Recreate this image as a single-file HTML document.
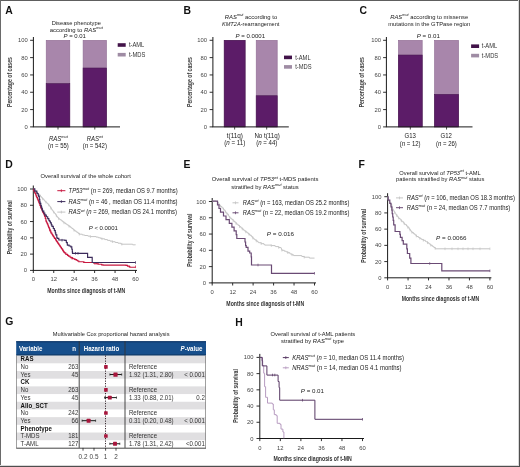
<!DOCTYPE html>
<html><head><meta charset="utf-8"><style>
html,body{margin:0;padding:0;background:#fff;}
svg{display:block;font-family:"Liberation Sans", sans-serif;will-change:transform;}
</style></head><body>
<svg width="520" height="467" viewBox="0 0 520 467" font-family='"Liberation Sans", sans-serif'>
<rect x="0" y="0" width="520" height="467" fill="#fff"/>
<text x="5.2" y="13.6" font-size="10.4" font-weight="bold" fill="#111">A</text>
<rect x="46.20" y="40.30" width="23.60" height="86.60" fill="#a886ab" stroke="#8f6c93" stroke-width="0.6"/>
<rect x="46.20" y="83.60" width="23.60" height="43.30" fill="#5c1c68" stroke="#4a1a52" stroke-width="0.6"/>
<rect x="83.10" y="40.30" width="23.40" height="86.60" fill="#a886ab" stroke="#8f6c93" stroke-width="0.6"/>
<rect x="83.10" y="68.01" width="23.40" height="58.89" fill="#5c1c68" stroke="#4a1a52" stroke-width="0.6"/>
<line x1="33.40" y1="37.00" x2="33.40" y2="126.90" stroke="#1a1a1a" stroke-width="1.0" />
<line x1="32.90" y1="126.90" x2="120.00" y2="126.90" stroke="#1a1a1a" stroke-width="1.0" />
<line x1="30.10" y1="126.90" x2="33.40" y2="126.90" stroke="#1a1a1a" stroke-width="0.9" />
<text x="27.80" y="128.90" font-size="5.85" text-anchor="end" fill="#444" font-weight="normal" ><tspan>0</tspan></text>
<line x1="30.10" y1="109.58" x2="33.40" y2="109.58" stroke="#1a1a1a" stroke-width="0.9" />
<text x="27.80" y="111.58" font-size="5.85" text-anchor="end" fill="#444" font-weight="normal" ><tspan>20</tspan></text>
<line x1="30.10" y1="92.26" x2="33.40" y2="92.26" stroke="#1a1a1a" stroke-width="0.9" />
<text x="27.80" y="94.26" font-size="5.85" text-anchor="end" fill="#444" font-weight="normal" ><tspan>40</tspan></text>
<line x1="30.10" y1="74.94" x2="33.40" y2="74.94" stroke="#1a1a1a" stroke-width="0.9" />
<text x="27.80" y="76.94" font-size="5.85" text-anchor="end" fill="#444" font-weight="normal" ><tspan>60</tspan></text>
<line x1="30.10" y1="57.62" x2="33.40" y2="57.62" stroke="#1a1a1a" stroke-width="0.9" />
<text x="27.80" y="59.62" font-size="5.85" text-anchor="end" fill="#444" font-weight="normal" ><tspan>80</tspan></text>
<line x1="30.10" y1="40.30" x2="33.40" y2="40.30" stroke="#1a1a1a" stroke-width="0.9" />
<text x="27.80" y="42.30" font-size="5.85" text-anchor="end" fill="#444" font-weight="normal" ><tspan>100</tspan></text>
<line x1="58.00" y1="126.90" x2="58.00" y2="129.50" stroke="#1a1a1a" stroke-width="0.8" />
<line x1="94.80" y1="126.90" x2="94.80" y2="129.50" stroke="#1a1a1a" stroke-width="0.8" />
<text x="76.25" y="25.00" font-size="6.2" text-anchor="middle" fill="#222" font-weight="normal"  textLength="49.20" lengthAdjust="spacingAndGlyphs"><tspan>Disease phenotype</tspan></text>
<text x="76.25" y="31.90" font-size="6.2" text-anchor="middle" fill="#222" font-weight="normal"  textLength="53.00" lengthAdjust="spacingAndGlyphs"><tspan>according to </tspan><tspan font-style="italic">RAS</tspan><tspan font-size="4.09" font-style="italic" dy="-2.60">mut</tspan></text>
<text x="74.70" y="38.40" font-size="6.2" text-anchor="middle" fill="#222" font-weight="normal"  textLength="22.40" lengthAdjust="spacingAndGlyphs"><tspan font-style="italic">P</tspan><tspan> = 0.01</tspan></text>
<rect x="117.70" y="43.20" width="8.00" height="3.60" fill="#421349" />
<text x="128.90" y="47.20" font-size="6.4" text-anchor="start" fill="#333" font-weight="normal"  textLength="15.40" lengthAdjust="spacingAndGlyphs"><tspan>t-AML</tspan></text>
<rect x="117.70" y="52.90" width="8.00" height="3.60" fill="#9f8ca4" />
<text x="128.90" y="56.90" font-size="6.4" text-anchor="start" fill="#333" font-weight="normal"  textLength="16.40" lengthAdjust="spacingAndGlyphs"><tspan>t-MDS</tspan></text>
<text x="58.40" y="140.90" font-size="6.6" text-anchor="middle" fill="#222" font-weight="normal"  textLength="18.94" lengthAdjust="spacingAndGlyphs"><tspan font-style="italic">RAS</tspan><tspan font-size="4.36" font-style="italic" dy="-2.77">mut</tspan></text>
<text x="58.40" y="148.10" font-size="6.6" text-anchor="middle" fill="#222" font-weight="normal"  textLength="20.85" lengthAdjust="spacingAndGlyphs"><tspan>(</tspan><tspan font-style="italic">n</tspan><tspan> = 55)</tspan></text>
<text x="94.80" y="140.90" font-size="6.6" text-anchor="middle" fill="#222" font-weight="normal"  textLength="16.30" lengthAdjust="spacingAndGlyphs"><tspan font-style="italic">RAS</tspan><tspan font-size="4.36" font-style="italic" dy="-2.77">wt</tspan></text>
<text x="94.80" y="148.10" font-size="6.6" text-anchor="middle" fill="#222" font-weight="normal"  textLength="24.18" lengthAdjust="spacingAndGlyphs"><tspan>(</tspan><tspan font-style="italic">n</tspan><tspan> = 542)</tspan></text>
<text transform="translate(12.10,82.05) rotate(-90)" x="0" y="0" font-size="8.0" font-weight="bold" fill="#3a3a3a" text-anchor="middle" textLength="50.00" lengthAdjust="spacingAndGlyphs">Percentage of cases</text>
<text x="183.6" y="13.6" font-size="10.4" font-weight="bold" fill="#111">B</text>
<rect x="224.20" y="40.30" width="20.90" height="86.60" fill="#a886ab" stroke="#8f6c93" stroke-width="0.6"/>
<rect x="224.20" y="40.30" width="20.90" height="86.60" fill="#5c1c68" stroke="#4a1a52" stroke-width="0.6"/>
<rect x="256.20" y="40.30" width="21.00" height="86.60" fill="#a886ab" stroke="#8f6c93" stroke-width="0.6"/>
<rect x="256.20" y="95.72" width="21.00" height="31.18" fill="#5c1c68" stroke="#4a1a52" stroke-width="0.6"/>
<line x1="212.90" y1="37.00" x2="212.90" y2="126.90" stroke="#1a1a1a" stroke-width="1.0" />
<line x1="212.40" y1="126.90" x2="288.80" y2="126.90" stroke="#1a1a1a" stroke-width="1.0" />
<line x1="209.60" y1="126.90" x2="212.90" y2="126.90" stroke="#1a1a1a" stroke-width="0.9" />
<text x="207.10" y="128.90" font-size="5.85" text-anchor="end" fill="#444" font-weight="normal" ><tspan>0</tspan></text>
<line x1="209.60" y1="109.58" x2="212.90" y2="109.58" stroke="#1a1a1a" stroke-width="0.9" />
<text x="207.10" y="111.58" font-size="5.85" text-anchor="end" fill="#444" font-weight="normal" ><tspan>20</tspan></text>
<line x1="209.60" y1="92.26" x2="212.90" y2="92.26" stroke="#1a1a1a" stroke-width="0.9" />
<text x="207.10" y="94.26" font-size="5.85" text-anchor="end" fill="#444" font-weight="normal" ><tspan>40</tspan></text>
<line x1="209.60" y1="74.94" x2="212.90" y2="74.94" stroke="#1a1a1a" stroke-width="0.9" />
<text x="207.10" y="76.94" font-size="5.85" text-anchor="end" fill="#444" font-weight="normal" ><tspan>60</tspan></text>
<line x1="209.60" y1="57.62" x2="212.90" y2="57.62" stroke="#1a1a1a" stroke-width="0.9" />
<text x="207.10" y="59.62" font-size="5.85" text-anchor="end" fill="#444" font-weight="normal" ><tspan>80</tspan></text>
<line x1="209.60" y1="40.30" x2="212.90" y2="40.30" stroke="#1a1a1a" stroke-width="0.9" />
<text x="207.10" y="42.30" font-size="5.85" text-anchor="end" fill="#444" font-weight="normal" ><tspan>100</tspan></text>
<line x1="234.65" y1="126.90" x2="234.65" y2="129.50" stroke="#1a1a1a" stroke-width="0.8" />
<line x1="266.70" y1="126.90" x2="266.70" y2="129.50" stroke="#1a1a1a" stroke-width="0.8" />
<text x="251.00" y="18.70" font-size="6.2" text-anchor="middle" fill="#222" font-weight="normal"  textLength="52.40" lengthAdjust="spacingAndGlyphs"><tspan font-style="italic">RAS</tspan><tspan font-size="4.09" font-style="italic" dy="-2.60">mut</tspan><tspan dy="2.60"> according to</tspan></text>
<text x="250.70" y="25.60" font-size="6.2" text-anchor="middle" fill="#222" font-weight="normal"  textLength="57.50" lengthAdjust="spacingAndGlyphs"><tspan font-style="italic">KMT2A</tspan><tspan>-rearrangement</tspan></text>
<text x="250.30" y="38.10" font-size="6.2" text-anchor="middle" fill="#222" font-weight="normal"  textLength="29.40" lengthAdjust="spacingAndGlyphs"><tspan font-style="italic">P</tspan><tspan> = 0.0001</tspan></text>
<rect x="284.00" y="55.60" width="8.00" height="3.60" fill="#421349" />
<text x="295.20" y="59.60" font-size="6.4" text-anchor="start" fill="#333" font-weight="normal"  textLength="15.40" lengthAdjust="spacingAndGlyphs"><tspan>t-AML</tspan></text>
<rect x="284.00" y="65.10" width="8.00" height="3.60" fill="#9f8ca4" />
<text x="295.20" y="69.10" font-size="6.4" text-anchor="start" fill="#333" font-weight="normal"  textLength="16.40" lengthAdjust="spacingAndGlyphs"><tspan>t-MDS</tspan></text>
<text x="234.90" y="138.00" font-size="6.6" text-anchor="middle" fill="#222" font-weight="normal"  textLength="16.24" lengthAdjust="spacingAndGlyphs"><tspan>t(11q)</tspan></text>
<text x="234.80" y="145.00" font-size="6.6" text-anchor="middle" fill="#222" font-weight="normal"  textLength="21.08" lengthAdjust="spacingAndGlyphs"><tspan>(</tspan><tspan font-style="italic">n</tspan><tspan> = 11)</tspan></text>
<text x="267.10" y="138.00" font-size="6.6" text-anchor="middle" fill="#222" font-weight="normal"  textLength="25.39" lengthAdjust="spacingAndGlyphs"><tspan>No t(11q)</tspan></text>
<text x="266.80" y="145.00" font-size="6.6" text-anchor="middle" fill="#222" font-weight="normal"  textLength="21.19" lengthAdjust="spacingAndGlyphs"><tspan>(</tspan><tspan font-style="italic">n</tspan><tspan> = 44)</tspan></text>
<text transform="translate(191.50,82.05) rotate(-90)" x="0" y="0" font-size="8.0" font-weight="bold" fill="#3a3a3a" text-anchor="middle" textLength="50.00" lengthAdjust="spacingAndGlyphs">Percentage of cases</text>
<text x="359.6" y="13.6" font-size="10.4" font-weight="bold" fill="#111">C</text>
<rect x="398.40" y="40.30" width="23.80" height="86.60" fill="#a886ab" stroke="#8f6c93" stroke-width="0.6"/>
<rect x="398.40" y="55.02" width="23.80" height="71.88" fill="#5c1c68" stroke="#4a1a52" stroke-width="0.6"/>
<rect x="434.50" y="40.30" width="24.10" height="86.60" fill="#a886ab" stroke="#8f6c93" stroke-width="0.6"/>
<rect x="434.50" y="94.34" width="24.10" height="32.56" fill="#5c1c68" stroke="#4a1a52" stroke-width="0.6"/>
<line x1="386.40" y1="37.00" x2="386.40" y2="126.90" stroke="#1a1a1a" stroke-width="1.0" />
<line x1="385.90" y1="126.90" x2="472.50" y2="126.90" stroke="#1a1a1a" stroke-width="1.0" />
<line x1="383.10" y1="126.90" x2="386.40" y2="126.90" stroke="#1a1a1a" stroke-width="0.9" />
<text x="381.10" y="128.90" font-size="5.85" text-anchor="end" fill="#444" font-weight="normal" ><tspan>0</tspan></text>
<line x1="383.10" y1="109.58" x2="386.40" y2="109.58" stroke="#1a1a1a" stroke-width="0.9" />
<text x="381.10" y="111.58" font-size="5.85" text-anchor="end" fill="#444" font-weight="normal" ><tspan>20</tspan></text>
<line x1="383.10" y1="92.26" x2="386.40" y2="92.26" stroke="#1a1a1a" stroke-width="0.9" />
<text x="381.10" y="94.26" font-size="5.85" text-anchor="end" fill="#444" font-weight="normal" ><tspan>40</tspan></text>
<line x1="383.10" y1="74.94" x2="386.40" y2="74.94" stroke="#1a1a1a" stroke-width="0.9" />
<text x="381.10" y="76.94" font-size="5.85" text-anchor="end" fill="#444" font-weight="normal" ><tspan>60</tspan></text>
<line x1="383.10" y1="57.62" x2="386.40" y2="57.62" stroke="#1a1a1a" stroke-width="0.9" />
<text x="381.10" y="59.62" font-size="5.85" text-anchor="end" fill="#444" font-weight="normal" ><tspan>80</tspan></text>
<line x1="383.10" y1="40.30" x2="386.40" y2="40.30" stroke="#1a1a1a" stroke-width="0.9" />
<text x="381.10" y="42.30" font-size="5.85" text-anchor="end" fill="#444" font-weight="normal" ><tspan>100</tspan></text>
<line x1="410.30" y1="126.90" x2="410.30" y2="129.50" stroke="#1a1a1a" stroke-width="0.8" />
<line x1="446.55" y1="126.90" x2="446.55" y2="129.50" stroke="#1a1a1a" stroke-width="0.8" />
<text x="429.20" y="19.00" font-size="6.2" text-anchor="middle" fill="#222" font-weight="normal"  textLength="78.00" lengthAdjust="spacingAndGlyphs"><tspan font-style="italic">RAS</tspan><tspan font-size="4.09" font-style="italic" dy="-2.60">mut</tspan><tspan dy="2.60"> according to missense</tspan></text>
<text x="429.30" y="25.90" font-size="6.2" text-anchor="middle" fill="#222" font-weight="normal"  textLength="82.10" lengthAdjust="spacingAndGlyphs"><tspan>mutations in the GTPase region</tspan></text>
<text x="428.30" y="37.70" font-size="6.2" text-anchor="middle" fill="#222" font-weight="normal"  textLength="23.00" lengthAdjust="spacingAndGlyphs"><tspan font-style="italic">P</tspan><tspan> = 0.01</tspan></text>
<rect x="471.10" y="44.40" width="8.00" height="3.60" fill="#421349" />
<text x="481.80" y="48.40" font-size="6.4" text-anchor="start" fill="#333" font-weight="normal"  textLength="15.40" lengthAdjust="spacingAndGlyphs"><tspan>t-AML</tspan></text>
<rect x="471.10" y="53.80" width="8.00" height="3.60" fill="#9f8ca4" />
<text x="481.80" y="57.80" font-size="6.4" text-anchor="start" fill="#333" font-weight="normal"  textLength="16.40" lengthAdjust="spacingAndGlyphs"><tspan>t-MDS</tspan></text>
<text x="410.20" y="138.20" font-size="6.6" text-anchor="middle" fill="#222" font-weight="normal"  textLength="11.34" lengthAdjust="spacingAndGlyphs"><tspan>G13</tspan></text>
<text x="410.20" y="145.80" font-size="6.6" text-anchor="middle" fill="#222" font-weight="normal"  textLength="20.85" lengthAdjust="spacingAndGlyphs"><tspan>(</tspan><tspan font-style="italic">n</tspan><tspan> = 12)</tspan></text>
<text x="446.20" y="138.20" font-size="6.6" text-anchor="middle" fill="#222" font-weight="normal"  textLength="11.34" lengthAdjust="spacingAndGlyphs"><tspan>G12</tspan></text>
<text x="446.40" y="145.80" font-size="6.6" text-anchor="middle" fill="#222" font-weight="normal"  textLength="20.85" lengthAdjust="spacingAndGlyphs"><tspan>(</tspan><tspan font-style="italic">n</tspan><tspan> = 26)</tspan></text>
<text transform="translate(364.40,82.20) rotate(-90)" x="0" y="0" font-size="8.0" font-weight="bold" fill="#3a3a3a" text-anchor="middle" textLength="50.30" lengthAdjust="spacingAndGlyphs">Percentage of cases</text>
<text x="5.2" y="167.8" font-size="10.4" font-weight="bold" fill="#111">D</text>
<text x="40.60" y="177.50" font-size="6.2" text-anchor="start" fill="#222" font-weight="normal"  textLength="90.30" lengthAdjust="spacingAndGlyphs"><tspan>Overall survival of the whole cohort</tspan></text>
<line x1="33.30" y1="185.50" x2="33.30" y2="270.40" stroke="#1a1a1a" stroke-width="1.0" />
<line x1="32.80" y1="270.40" x2="137.00" y2="270.40" stroke="#1a1a1a" stroke-width="1.0" />
<line x1="30.00" y1="270.40" x2="33.30" y2="270.40" stroke="#1a1a1a" stroke-width="0.9" />
<text x="27.10" y="272.40" font-size="5.85" text-anchor="end" fill="#444" font-weight="normal" ><tspan>0</tspan></text>
<line x1="30.00" y1="254.12" x2="33.30" y2="254.12" stroke="#1a1a1a" stroke-width="0.9" />
<text x="27.10" y="256.12" font-size="5.85" text-anchor="end" fill="#444" font-weight="normal" ><tspan>20</tspan></text>
<line x1="30.00" y1="237.84" x2="33.30" y2="237.84" stroke="#1a1a1a" stroke-width="0.9" />
<text x="27.10" y="239.84" font-size="5.85" text-anchor="end" fill="#444" font-weight="normal" ><tspan>40</tspan></text>
<line x1="30.00" y1="221.56" x2="33.30" y2="221.56" stroke="#1a1a1a" stroke-width="0.9" />
<text x="27.10" y="223.56" font-size="5.85" text-anchor="end" fill="#444" font-weight="normal" ><tspan>60</tspan></text>
<line x1="30.00" y1="205.28" x2="33.30" y2="205.28" stroke="#1a1a1a" stroke-width="0.9" />
<text x="27.10" y="207.28" font-size="5.85" text-anchor="end" fill="#444" font-weight="normal" ><tspan>80</tspan></text>
<line x1="30.00" y1="189.00" x2="33.30" y2="189.00" stroke="#1a1a1a" stroke-width="0.9" />
<text x="27.10" y="191.00" font-size="5.85" text-anchor="end" fill="#444" font-weight="normal" ><tspan>100</tspan></text>
<line x1="33.30" y1="270.40" x2="33.30" y2="273.00" stroke="#1a1a1a" stroke-width="0.9" />
<text x="33.30" y="281.10" font-size="5.85" text-anchor="middle" fill="#444" font-weight="normal" ><tspan>0</tspan></text>
<line x1="53.74" y1="270.40" x2="53.74" y2="273.00" stroke="#1a1a1a" stroke-width="0.9" />
<text x="53.74" y="281.10" font-size="5.85" text-anchor="middle" fill="#444" font-weight="normal" ><tspan>12</tspan></text>
<line x1="74.18" y1="270.40" x2="74.18" y2="273.00" stroke="#1a1a1a" stroke-width="0.9" />
<text x="74.18" y="281.10" font-size="5.85" text-anchor="middle" fill="#444" font-weight="normal" ><tspan>24</tspan></text>
<line x1="94.62" y1="270.40" x2="94.62" y2="273.00" stroke="#1a1a1a" stroke-width="0.9" />
<text x="94.62" y="281.10" font-size="5.85" text-anchor="middle" fill="#444" font-weight="normal" ><tspan>36</tspan></text>
<line x1="115.06" y1="270.40" x2="115.06" y2="273.00" stroke="#1a1a1a" stroke-width="0.9" />
<text x="115.06" y="281.10" font-size="5.85" text-anchor="middle" fill="#444" font-weight="normal" ><tspan>48</tspan></text>
<line x1="135.50" y1="270.40" x2="135.50" y2="273.00" stroke="#1a1a1a" stroke-width="0.9" />
<text x="135.50" y="281.10" font-size="5.85" text-anchor="middle" fill="#444" font-weight="normal" ><tspan>60</tspan></text>
<text x="86.25" y="292.50" font-size="8.0" font-weight="bold" fill="#333" text-anchor="middle" textLength="78.00" lengthAdjust="spacingAndGlyphs">Months since diagnosis of t-MN</text>
<text transform="translate(11.90,227.30) rotate(-90)" x="0" y="0" font-size="8.0" font-weight="bold" fill="#3a3a3a" text-anchor="middle" textLength="53.90" lengthAdjust="spacingAndGlyphs">Probability of survival</text>
<path d="M33.30,188.90 H34.00 V189.60 H34.70 V190.30 H35.40 V191.00 H35.50 V191.10 H36.80 V192.40 H37.50 V193.10 H38.20 V193.80 H38.90 V194.50 H39.40 V195.00 H40.30 V196.10 H41.00 V196.95 H41.70 V197.80 H42.40 V198.66 H42.60 V198.90 H43.80 V200.10 H44.50 V200.80 H45.20 V201.50 H45.80 V202.10 H46.60 V202.90 H47.30 V203.60 H48.00 V204.30 H48.70 V205.00 H49.00 V205.30 H49.40 V205.94 H50.10 V207.05 H50.80 V208.17 H51.50 V209.28 H52.20 V210.40 H52.90 V211.26 H53.60 V212.12 H54.30 V212.98 H54.80 V213.60 H55.70 V214.89 H56.40 V215.90 H57.10 V216.90 H57.80 V217.73 H58.50 V218.56 H58.70 V218.80 H59.90 V219.73 H61.30 V220.81 H62.70 V221.89 H64.00 V222.90 H65.50 V223.90 H66.90 V224.83 H68.30 V225.77 H69.10 V226.30 H70.40 V227.37 H71.80 V228.51 H73.20 V229.66 H74.10 V230.40 H75.30 V231.28 H76.70 V232.30 H78.10 V233.32 H79.30 V234.20 H82.30 V234.94 H84.60 V235.50 H87.90 V236.13 H90.40 V236.60 H96.10 V237.10 H98.40 V237.77 H100.50 V238.39 H101.90 V238.80 H104.70 V239.60 H107.50 V240.39 H110.00 V241.10 H112.40 V241.73 H115.20 V242.47 H118.00 V243.20 H120.80 V243.94 H121.80 V244.20 H132.70 V244.84 H135.50 V245.00 H135.50" fill="none" stroke="#c4c4c4" stroke-width="1.0" stroke-linejoin="miter"/>
<line x1="40.30" y1="194.80" x2="40.30" y2="197.40" stroke="#c4c4c4" stroke-width="0.7" />
<line x1="42.60" y1="197.60" x2="42.60" y2="200.20" stroke="#c4c4c4" stroke-width="0.7" />
<line x1="45.80" y1="200.80" x2="45.80" y2="203.40" stroke="#c4c4c4" stroke-width="0.7" />
<line x1="48.70" y1="203.70" x2="48.70" y2="206.30" stroke="#c4c4c4" stroke-width="0.7" />
<line x1="50.80" y1="206.87" x2="50.80" y2="209.47" stroke="#c4c4c4" stroke-width="0.7" />
<line x1="53.60" y1="210.82" x2="53.60" y2="213.42" stroke="#c4c4c4" stroke-width="0.7" />
<line x1="56.40" y1="214.60" x2="56.40" y2="217.20" stroke="#c4c4c4" stroke-width="0.7" />
<line x1="58.70" y1="217.50" x2="58.70" y2="220.10" stroke="#c4c4c4" stroke-width="0.7" />
<line x1="64.00" y1="221.60" x2="64.00" y2="224.20" stroke="#c4c4c4" stroke-width="0.7" />
<line x1="69.10" y1="225.00" x2="69.10" y2="227.60" stroke="#c4c4c4" stroke-width="0.7" />
<line x1="74.10" y1="229.10" x2="74.10" y2="231.70" stroke="#c4c4c4" stroke-width="0.7" />
<line x1="79.30" y1="232.90" x2="79.30" y2="235.50" stroke="#c4c4c4" stroke-width="0.7" />
<line x1="90.40" y1="235.30" x2="90.40" y2="237.90" stroke="#c4c4c4" stroke-width="0.7" />
<line x1="101.90" y1="237.50" x2="101.90" y2="240.10" stroke="#c4c4c4" stroke-width="0.7" />
<line x1="112.40" y1="240.43" x2="112.40" y2="243.03" stroke="#c4c4c4" stroke-width="0.7" />
<line x1="121.80" y1="242.90" x2="121.80" y2="245.50" stroke="#c4c4c4" stroke-width="0.7" />
<path d="M33.30,188.90 H33.60 V190.20 H33.90 V190.87 H34.50 V192.21 H34.90 V193.10 H35.70 V194.99 H36.30 V196.42 H36.80 V197.60 H37.50 V199.26 H38.10 V200.68 H38.70 V202.10 H39.30 V203.71 H39.90 V205.32 H40.50 V206.93 H40.60 V207.20 H41.10 V208.32 H41.70 V209.67 H42.30 V211.02 H42.60 V211.70 H42.90 V212.32 H43.50 V213.55 H44.10 V214.78 H44.50 V215.60 H44.70 V216.33 H45.30 V218.53 H45.90 V220.73 H46.00 V221.10 H46.50 V222.25 H47.10 V223.64 H47.70 V225.02 H48.30 V226.41 H48.60 V227.10 H48.90 V227.82 H49.50 V229.26 H50.10 V230.70 H50.70 V232.14 H51.10 V233.10 H51.90 V234.29 H52.50 V235.18 H53.10 V236.07 H53.70 V236.96 H54.30 V237.85 H54.60 V238.30 H55.50 V239.65 H56.10 V240.55 H56.70 V241.45 H57.30 V242.35 H57.90 V243.25 H58.00 V243.40 H58.50 V244.13 H59.10 V245.00 H59.70 V245.88 H60.30 V246.75 H60.90 V247.63 H61.50 V248.50 H62.10 V249.44 H62.70 V250.38 H63.30 V251.32 H63.80 V252.10 H64.50 V252.80 H65.70 V254.00 H66.10 V254.40 H67.50 V255.39 H68.50 V256.10 H69.90 V257.01 H70.80 V257.60 H72.30 V258.32 H73.10 V258.70 H74.70 V259.33 H75.40 V259.60 H76.50 V260.28 H77.70 V261.02 H78.80 V261.70 H83.70 V262.38 H84.60 V262.50 H93.80 V263.10 H96.90 V263.84 H98.40 V264.20 H101.70 V264.83 H103.10 V265.10 H126.00 V265.40 H127.50 V266.07 H129.30 V266.88 H130.00 V267.20 H135.50" fill="none" stroke="#c8173f" stroke-width="1.15" stroke-linejoin="miter"/>
<line x1="135.50" y1="265.50" x2="135.50" y2="268.10" stroke="#c8173f" stroke-width="0.7" />
<line x1="49.50" y1="228.70" x2="49.50" y2="231.30" stroke="#c8173f" stroke-width="0.7" />
<line x1="72.00" y1="256.90" x2="72.00" y2="259.50" stroke="#c8173f" stroke-width="0.7" />
<line x1="95.00" y1="262.30" x2="95.00" y2="264.90" stroke="#c8173f" stroke-width="0.7" />
<path d="M33.30,188.90 H34.80 V190.96 H34.90 V191.10 H36.80 V193.08 H37.40 V193.70 H38.30 V195.50 H38.70 V196.30 H39.30 V199.34 H39.80 V201.88 H40.10 V203.40 H40.80 V205.56 H41.30 V207.10 H41.80 V208.64 H42.30 V210.18 H42.60 V211.10 H43.80 V213.02 H44.80 V214.62 H45.10 V215.10 H46.30 V216.72 H47.70 V218.60 H48.80 V220.22 H49.40 V221.10 H50.30 V222.90 H51.30 V224.90 H52.00 V226.30 H53.30 V228.45 H54.30 V230.10 H54.60 V230.60 H55.30 V232.92 H55.80 V234.57 H55.90 V234.90 H56.80 V237.45 H57.10 V238.30 H58.80 V239.91 H58.90 V240.00 H64.80 V240.40 H66.30 V242.23 H66.60 V242.60 H67.30 V244.79 H67.40 V245.10 H69.10 V246.00 H70.80 V246.90 H71.80 V248.99 H71.90 V249.20 H72.30 V251.93 H72.50 V253.30 H87.60 V257.30 H92.20 V262.50 H135.50" fill="none" stroke="#3b2a5a" stroke-width="1.15" stroke-linejoin="miter"/>
<line x1="62.00" y1="238.90" x2="62.00" y2="241.50" stroke="#3b2a5a" stroke-width="0.7" />
<line x1="75.50" y1="252.00" x2="75.50" y2="254.60" stroke="#3b2a5a" stroke-width="0.7" />
<line x1="78.00" y1="252.00" x2="78.00" y2="254.60" stroke="#3b2a5a" stroke-width="0.7" />
<line x1="135.50" y1="261.20" x2="135.50" y2="263.80" stroke="#3b2a5a" stroke-width="0.7" />
<line x1="57.30" y1="190.70" x2="65.40" y2="190.70" stroke="#c8173f" stroke-width="1.0" />
<line x1="61.35" y1="189.30" x2="61.35" y2="192.10" stroke="#c8173f" stroke-width="0.8" />
<text x="68.60" y="192.90" font-size="6.3" text-anchor="start" fill="#222" font-weight="normal"  textLength="109.00" lengthAdjust="spacingAndGlyphs"><tspan font-style="italic">TP53</tspan><tspan font-size="4.16" font-style="italic" dy="-2.65">mut</tspan><tspan dy="2.65"> (</tspan><tspan font-style="italic">n</tspan><tspan> = 269, median OS 9.7 months)</tspan></text>
<line x1="57.30" y1="201.60" x2="65.40" y2="201.60" stroke="#3b2a5a" stroke-width="1.0" />
<line x1="61.35" y1="200.20" x2="61.35" y2="203.00" stroke="#3b2a5a" stroke-width="0.8" />
<text x="68.60" y="203.80" font-size="6.3" text-anchor="start" fill="#222" font-weight="normal"  textLength="109.00" lengthAdjust="spacingAndGlyphs"><tspan font-style="italic">RAS</tspan><tspan font-size="4.16" font-style="italic" dy="-2.65">mut</tspan><tspan dy="2.65"> (</tspan><tspan font-style="italic">n</tspan><tspan> = 46 , median OS 11.4 months)</tspan></text>
<line x1="57.30" y1="212.10" x2="65.40" y2="212.10" stroke="#c4c4c4" stroke-width="1.0" />
<line x1="61.35" y1="210.70" x2="61.35" y2="213.50" stroke="#c4c4c4" stroke-width="0.8" />
<text x="68.60" y="214.30" font-size="6.3" text-anchor="start" fill="#222" font-weight="normal"  textLength="108.40" lengthAdjust="spacingAndGlyphs"><tspan font-style="italic">RAS</tspan><tspan font-size="4.16" font-style="italic" dy="-2.65">wt</tspan><tspan dy="2.65"> (</tspan><tspan font-style="italic">n</tspan><tspan> = 269, median OS 24.1 months)</tspan></text>
<text x="88.80" y="230.20" font-size="6.2" text-anchor="start" fill="#222" font-weight="normal"  textLength="29.00" lengthAdjust="spacingAndGlyphs"><tspan font-style="italic">P</tspan><tspan> &lt; 0.0001</tspan></text>
<text x="183.6" y="167.8" font-size="10.4" font-weight="bold" fill="#111">E</text>
<text x="265.05" y="181.20" font-size="6.2" text-anchor="middle" fill="#222" font-weight="normal"  textLength="106.80" lengthAdjust="spacingAndGlyphs"><tspan>Overall survival of </tspan><tspan font-style="italic">TP53</tspan><tspan font-size="4.09" font-style="italic" dy="-2.60">wt</tspan><tspan dy="2.60"> t-MDS patients</tspan></text>
<text x="265.05" y="188.60" font-size="6.2" text-anchor="middle" fill="#222" font-weight="normal"  textLength="67.40" lengthAdjust="spacingAndGlyphs"><tspan>stratified by </tspan><tspan font-style="italic">RAS</tspan><tspan font-size="4.09" font-style="italic" dy="-2.60">mut</tspan><tspan dy="2.60"> status</tspan></text>
<line x1="212.20" y1="198.00" x2="212.20" y2="282.90" stroke="#1a1a1a" stroke-width="1.0" />
<line x1="211.70" y1="282.90" x2="316.00" y2="282.90" stroke="#1a1a1a" stroke-width="1.0" />
<line x1="208.90" y1="282.90" x2="212.20" y2="282.90" stroke="#1a1a1a" stroke-width="0.9" />
<text x="206.00" y="284.90" font-size="5.85" text-anchor="end" fill="#444" font-weight="normal" ><tspan>0</tspan></text>
<line x1="208.90" y1="266.62" x2="212.20" y2="266.62" stroke="#1a1a1a" stroke-width="0.9" />
<text x="206.00" y="268.62" font-size="5.85" text-anchor="end" fill="#444" font-weight="normal" ><tspan>20</tspan></text>
<line x1="208.90" y1="250.34" x2="212.20" y2="250.34" stroke="#1a1a1a" stroke-width="0.9" />
<text x="206.00" y="252.34" font-size="5.85" text-anchor="end" fill="#444" font-weight="normal" ><tspan>40</tspan></text>
<line x1="208.90" y1="234.06" x2="212.20" y2="234.06" stroke="#1a1a1a" stroke-width="0.9" />
<text x="206.00" y="236.06" font-size="5.85" text-anchor="end" fill="#444" font-weight="normal" ><tspan>60</tspan></text>
<line x1="208.90" y1="217.78" x2="212.20" y2="217.78" stroke="#1a1a1a" stroke-width="0.9" />
<text x="206.00" y="219.78" font-size="5.85" text-anchor="end" fill="#444" font-weight="normal" ><tspan>80</tspan></text>
<line x1="208.90" y1="201.50" x2="212.20" y2="201.50" stroke="#1a1a1a" stroke-width="0.9" />
<text x="206.00" y="203.50" font-size="5.85" text-anchor="end" fill="#444" font-weight="normal" ><tspan>100</tspan></text>
<line x1="212.20" y1="282.90" x2="212.20" y2="285.50" stroke="#1a1a1a" stroke-width="0.9" />
<text x="212.20" y="294.40" font-size="5.85" text-anchor="middle" fill="#444" font-weight="normal" ><tspan>0</tspan></text>
<line x1="232.66" y1="282.90" x2="232.66" y2="285.50" stroke="#1a1a1a" stroke-width="0.9" />
<text x="232.66" y="294.40" font-size="5.85" text-anchor="middle" fill="#444" font-weight="normal" ><tspan>12</tspan></text>
<line x1="253.12" y1="282.90" x2="253.12" y2="285.50" stroke="#1a1a1a" stroke-width="0.9" />
<text x="253.12" y="294.40" font-size="5.85" text-anchor="middle" fill="#444" font-weight="normal" ><tspan>24</tspan></text>
<line x1="273.58" y1="282.90" x2="273.58" y2="285.50" stroke="#1a1a1a" stroke-width="0.9" />
<text x="273.58" y="294.40" font-size="5.85" text-anchor="middle" fill="#444" font-weight="normal" ><tspan>36</tspan></text>
<line x1="294.04" y1="282.90" x2="294.04" y2="285.50" stroke="#1a1a1a" stroke-width="0.9" />
<text x="294.04" y="294.40" font-size="5.85" text-anchor="middle" fill="#444" font-weight="normal" ><tspan>48</tspan></text>
<line x1="314.50" y1="282.90" x2="314.50" y2="285.50" stroke="#1a1a1a" stroke-width="0.9" />
<text x="314.50" y="294.40" font-size="5.85" text-anchor="middle" fill="#444" font-weight="normal" ><tspan>60</tspan></text>
<text x="265.25" y="305.60" font-size="8.0" font-weight="bold" fill="#333" text-anchor="middle" textLength="77.80" lengthAdjust="spacingAndGlyphs">Months since diagnosis of t-MN</text>
<text transform="translate(191.50,240.25) rotate(-90)" x="0" y="0" font-size="8.0" font-weight="bold" fill="#3a3a3a" text-anchor="middle" textLength="53.20" lengthAdjust="spacingAndGlyphs">Probability of survival</text>
<path d="M212.20,201.10 H216.00 V201.50 H217.50 V202.30 H218.50 V203.64 H219.20 V204.58 H219.90 V205.53 H220.60 V206.47 H220.70 V206.60 H222.00 V207.90 H223.40 V209.30 H223.90 V209.80 H224.80 V210.98 H225.50 V211.90 H226.20 V212.82 H226.90 V213.74 H227.10 V214.00 H228.30 V215.61 H229.00 V216.55 H229.70 V217.49 H230.30 V218.30 H231.80 V219.57 H233.20 V220.75 H233.50 V221.00 H234.60 V222.10 H236.00 V223.50 H236.70 V224.20 H238.10 V225.40 H239.50 V226.61 H240.90 V227.81 H241.00 V227.90 H242.30 V229.05 H243.70 V230.28 H244.40 V230.90 H245.80 V231.94 H247.20 V232.99 H248.60 V234.03 H249.10 V234.40 H250.00 V235.30 H251.40 V236.70 H252.80 V238.10 H253.80 V239.10 H254.90 V239.92 H256.30 V240.97 H257.70 V242.02 H258.60 V242.70 H261.20 V243.67 H264.00 V244.72 H265.00 V245.10 H271.30 V245.60 H275.20 V246.51 H275.60 V246.60 H278.70 V247.54 H280.90 V248.20 H281.50 V249.46 H281.90 V250.30 H284.30 V251.19 H286.20 V251.90 H287.80 V252.70 H289.90 V253.75 H290.40 V254.00 H292.00 V254.80 H293.60 V255.60 H301.80 V256.48 H304.20 V257.20 H309.40 V258.10 H314.50" fill="none" stroke="#c4c4c4" stroke-width="1.0" stroke-linejoin="miter"/>
<line x1="220.60" y1="205.17" x2="220.60" y2="207.77" stroke="#c4c4c4" stroke-width="0.7" />
<line x1="223.40" y1="208.00" x2="223.40" y2="210.60" stroke="#c4c4c4" stroke-width="0.7" />
<line x1="225.50" y1="210.60" x2="225.50" y2="213.20" stroke="#c4c4c4" stroke-width="0.7" />
<line x1="227.10" y1="212.70" x2="227.10" y2="215.30" stroke="#c4c4c4" stroke-width="0.7" />
<line x1="229.70" y1="216.19" x2="229.70" y2="218.79" stroke="#c4c4c4" stroke-width="0.7" />
<line x1="233.20" y1="219.45" x2="233.20" y2="222.05" stroke="#c4c4c4" stroke-width="0.7" />
<line x1="236.00" y1="222.20" x2="236.00" y2="224.80" stroke="#c4c4c4" stroke-width="0.7" />
<line x1="239.50" y1="225.31" x2="239.50" y2="227.91" stroke="#c4c4c4" stroke-width="0.7" />
<line x1="242.30" y1="227.75" x2="242.30" y2="230.35" stroke="#c4c4c4" stroke-width="0.7" />
<line x1="245.80" y1="230.64" x2="245.80" y2="233.24" stroke="#c4c4c4" stroke-width="0.7" />
<line x1="249.10" y1="233.10" x2="249.10" y2="235.70" stroke="#c4c4c4" stroke-width="0.7" />
<line x1="252.80" y1="236.80" x2="252.80" y2="239.40" stroke="#c4c4c4" stroke-width="0.7" />
<line x1="256.30" y1="239.67" x2="256.30" y2="242.28" stroke="#c4c4c4" stroke-width="0.7" />
<line x1="261.20" y1="242.37" x2="261.20" y2="244.97" stroke="#c4c4c4" stroke-width="0.7" />
<line x1="271.30" y1="244.30" x2="271.30" y2="246.90" stroke="#c4c4c4" stroke-width="0.7" />
<line x1="278.70" y1="246.24" x2="278.70" y2="248.84" stroke="#c4c4c4" stroke-width="0.7" />
<line x1="281.90" y1="249.00" x2="281.90" y2="251.60" stroke="#c4c4c4" stroke-width="0.7" />
<line x1="287.80" y1="251.40" x2="287.80" y2="254.00" stroke="#c4c4c4" stroke-width="0.7" />
<line x1="292.00" y1="253.50" x2="292.00" y2="256.10" stroke="#c4c4c4" stroke-width="0.7" />
<line x1="304.20" y1="255.90" x2="304.20" y2="258.50" stroke="#c4c4c4" stroke-width="0.7" />
<path d="M212.20,201.10 H217.50 V204.80 H219.00 V208.50 H220.50 V212.20 H223.50 V216.00 H226.00 V219.70 H229.30 V223.40 H231.90 V227.10 H234.10 V230.90 H236.20 V234.60 H236.80 V238.50 H245.00 V242.00 H245.60 V245.70 H246.20 V247.40 H248.00 V251.20 H249.70 V253.00 H251.20 V256.90 H251.50 V265.00 H271.50 V273.30 H314.50" fill="none" stroke="#6a4a74" stroke-width="1.2" stroke-linejoin="miter"/>
<line x1="258.00" y1="263.70" x2="258.00" y2="266.30" stroke="#6a4a74" stroke-width="0.7" />
<line x1="314.50" y1="272.00" x2="314.50" y2="274.60" stroke="#6a4a74" stroke-width="0.7" />
<line x1="232.50" y1="202.80" x2="238.50" y2="202.80" stroke="#c4c4c4" stroke-width="1.0" />
<line x1="235.50" y1="201.40" x2="235.50" y2="204.20" stroke="#c4c4c4" stroke-width="0.8" />
<text x="242.80" y="205.00" font-size="6.3" text-anchor="start" fill="#222" font-weight="normal"  textLength="106.60" lengthAdjust="spacingAndGlyphs"><tspan font-style="italic">RAS</tspan><tspan font-size="4.16" font-style="italic" dy="-2.65">wt</tspan><tspan dy="2.65"> (</tspan><tspan font-style="italic">n</tspan><tspan> = 163, median OS 25.2 months)</tspan></text>
<line x1="232.50" y1="212.80" x2="238.50" y2="212.80" stroke="#6a4a74" stroke-width="1.0" />
<line x1="235.50" y1="211.40" x2="235.50" y2="214.20" stroke="#6a4a74" stroke-width="0.8" />
<text x="242.80" y="215.00" font-size="6.3" text-anchor="start" fill="#222" font-weight="normal"  textLength="106.60" lengthAdjust="spacingAndGlyphs"><tspan font-style="italic">RAS</tspan><tspan font-size="4.16" font-style="italic" dy="-2.65">mut</tspan><tspan dy="2.65"> (</tspan><tspan font-style="italic">n</tspan><tspan> = 22, median OS 19.2 months)</tspan></text>
<text x="266.80" y="235.70" font-size="6.2" text-anchor="start" fill="#222" font-weight="normal"  textLength="27.20" lengthAdjust="spacingAndGlyphs"><tspan font-style="italic">P</tspan><tspan> = 0.016</tspan></text>
<text x="358.6" y="167.8" font-size="10.4" font-weight="bold" fill="#111">F</text>
<text x="440.00" y="175.00" font-size="6.2" text-anchor="middle" fill="#222" font-weight="normal"  textLength="81.30" lengthAdjust="spacingAndGlyphs"><tspan>Overall survival of </tspan><tspan font-style="italic">TP53</tspan><tspan font-size="4.09" font-style="italic" dy="-2.60">wt</tspan><tspan dy="2.60"> t-AML</tspan></text>
<text x="440.20" y="181.30" font-size="6.2" text-anchor="middle" fill="#222" font-weight="normal"  textLength="88.50" lengthAdjust="spacingAndGlyphs"><tspan>patients stratified by </tspan><tspan font-style="italic">RAS</tspan><tspan font-size="4.09" font-style="italic" dy="-2.60">mut</tspan><tspan dy="2.60"> status</tspan></text>
<line x1="387.60" y1="193.20" x2="387.60" y2="277.80" stroke="#1a1a1a" stroke-width="1.0" />
<line x1="387.10" y1="277.80" x2="491.40" y2="277.80" stroke="#1a1a1a" stroke-width="1.0" />
<line x1="384.30" y1="277.80" x2="387.60" y2="277.80" stroke="#1a1a1a" stroke-width="0.9" />
<text x="381.40" y="279.80" font-size="5.85" text-anchor="end" fill="#444" font-weight="normal" ><tspan>0</tspan></text>
<line x1="384.30" y1="261.58" x2="387.60" y2="261.58" stroke="#1a1a1a" stroke-width="0.9" />
<text x="381.40" y="263.58" font-size="5.85" text-anchor="end" fill="#444" font-weight="normal" ><tspan>20</tspan></text>
<line x1="384.30" y1="245.36" x2="387.60" y2="245.36" stroke="#1a1a1a" stroke-width="0.9" />
<text x="381.40" y="247.36" font-size="5.85" text-anchor="end" fill="#444" font-weight="normal" ><tspan>40</tspan></text>
<line x1="384.30" y1="229.14" x2="387.60" y2="229.14" stroke="#1a1a1a" stroke-width="0.9" />
<text x="381.40" y="231.14" font-size="5.85" text-anchor="end" fill="#444" font-weight="normal" ><tspan>60</tspan></text>
<line x1="384.30" y1="212.92" x2="387.60" y2="212.92" stroke="#1a1a1a" stroke-width="0.9" />
<text x="381.40" y="214.92" font-size="5.85" text-anchor="end" fill="#444" font-weight="normal" ><tspan>80</tspan></text>
<line x1="384.30" y1="196.70" x2="387.60" y2="196.70" stroke="#1a1a1a" stroke-width="0.9" />
<text x="381.40" y="198.70" font-size="5.85" text-anchor="end" fill="#444" font-weight="normal" ><tspan>100</tspan></text>
<line x1="387.60" y1="277.80" x2="387.60" y2="280.40" stroke="#1a1a1a" stroke-width="0.9" />
<text x="387.60" y="288.60" font-size="5.85" text-anchor="middle" fill="#444" font-weight="normal" ><tspan>0</tspan></text>
<line x1="408.06" y1="277.80" x2="408.06" y2="280.40" stroke="#1a1a1a" stroke-width="0.9" />
<text x="408.06" y="288.60" font-size="5.85" text-anchor="middle" fill="#444" font-weight="normal" ><tspan>12</tspan></text>
<line x1="428.52" y1="277.80" x2="428.52" y2="280.40" stroke="#1a1a1a" stroke-width="0.9" />
<text x="428.52" y="288.60" font-size="5.85" text-anchor="middle" fill="#444" font-weight="normal" ><tspan>24</tspan></text>
<line x1="448.98" y1="277.80" x2="448.98" y2="280.40" stroke="#1a1a1a" stroke-width="0.9" />
<text x="448.98" y="288.60" font-size="5.85" text-anchor="middle" fill="#444" font-weight="normal" ><tspan>36</tspan></text>
<line x1="469.44" y1="277.80" x2="469.44" y2="280.40" stroke="#1a1a1a" stroke-width="0.9" />
<text x="469.44" y="288.60" font-size="5.85" text-anchor="middle" fill="#444" font-weight="normal" ><tspan>48</tspan></text>
<line x1="489.90" y1="277.80" x2="489.90" y2="280.40" stroke="#1a1a1a" stroke-width="0.9" />
<text x="489.90" y="288.60" font-size="5.85" text-anchor="middle" fill="#444" font-weight="normal" ><tspan>60</tspan></text>
<text x="440.40" y="300.70" font-size="8.0" font-weight="bold" fill="#333" text-anchor="middle" textLength="77.50" lengthAdjust="spacingAndGlyphs">Months since diagnosis of t-MN</text>
<text transform="translate(366.00,235.85) rotate(-90)" x="0" y="0" font-size="8.0" font-weight="bold" fill="#3a3a3a" text-anchor="middle" textLength="53.80" lengthAdjust="spacingAndGlyphs">Probability of survival</text>
<path d="M387.60,196.80 H387.90 V199.70 H389.00 V201.52 H389.70 V202.68 H390.40 V203.84 H390.80 V204.50 H391.80 V207.08 H392.50 V208.88 H392.70 V209.40 H393.20 V210.23 H393.90 V211.39 H394.60 V212.54 H395.30 V213.70 H395.60 V214.20 H396.70 V215.64 H397.40 V216.56 H398.10 V217.48 H398.50 V218.00 H399.50 V219.00 H400.90 V220.40 H401.40 V220.90 H402.30 V221.80 H403.70 V223.20 H404.30 V223.80 H405.10 V224.62 H406.50 V226.06 H407.90 V227.49 H408.10 V227.70 H409.30 V229.18 H410.00 V230.04 H410.70 V230.90 H411.40 V231.76 H412.00 V232.50 H413.50 V233.75 H414.90 V234.92 H416.30 V236.08 H416.80 V236.50 H418.40 V237.49 H419.80 V238.35 H421.20 V239.21 H421.50 V239.40 H423.30 V240.32 H425.40 V241.39 H426.20 V241.80 H427.50 V242.77 H428.90 V243.81 H430.30 V244.85 H430.90 V245.30 H432.40 V246.42 H433.80 V247.46 H435.20 V248.50 H435.60 V248.80 H489.90" fill="none" stroke="#c4c4c4" stroke-width="1.0" stroke-linejoin="miter"/>
<line x1="390.80" y1="203.20" x2="390.80" y2="205.80" stroke="#c4c4c4" stroke-width="0.7" />
<line x1="392.70" y1="208.10" x2="392.70" y2="210.70" stroke="#c4c4c4" stroke-width="0.7" />
<line x1="394.60" y1="211.24" x2="394.60" y2="213.84" stroke="#c4c4c4" stroke-width="0.7" />
<line x1="396.70" y1="214.34" x2="396.70" y2="216.94" stroke="#c4c4c4" stroke-width="0.7" />
<line x1="398.50" y1="216.70" x2="398.50" y2="219.30" stroke="#c4c4c4" stroke-width="0.7" />
<line x1="401.40" y1="219.60" x2="401.40" y2="222.20" stroke="#c4c4c4" stroke-width="0.7" />
<line x1="404.30" y1="222.50" x2="404.30" y2="225.10" stroke="#c4c4c4" stroke-width="0.7" />
<line x1="407.90" y1="226.19" x2="407.90" y2="228.79" stroke="#c4c4c4" stroke-width="0.7" />
<line x1="410.00" y1="228.74" x2="410.00" y2="231.34" stroke="#c4c4c4" stroke-width="0.7" />
<line x1="412.00" y1="231.20" x2="412.00" y2="233.80" stroke="#c4c4c4" stroke-width="0.7" />
<line x1="416.30" y1="234.78" x2="416.30" y2="237.38" stroke="#c4c4c4" stroke-width="0.7" />
<line x1="419.80" y1="237.05" x2="419.80" y2="239.65" stroke="#c4c4c4" stroke-width="0.7" />
<line x1="423.30" y1="239.02" x2="423.30" y2="241.62" stroke="#c4c4c4" stroke-width="0.7" />
<line x1="427.50" y1="241.47" x2="427.50" y2="244.07" stroke="#c4c4c4" stroke-width="0.7" />
<line x1="430.90" y1="244.00" x2="430.90" y2="246.60" stroke="#c4c4c4" stroke-width="0.7" />
<line x1="435.20" y1="247.20" x2="435.20" y2="249.80" stroke="#c4c4c4" stroke-width="0.7" />
<line x1="445.00" y1="247.50" x2="445.00" y2="250.10" stroke="#c4c4c4" stroke-width="0.7" />
<line x1="452.00" y1="247.50" x2="452.00" y2="250.10" stroke="#c4c4c4" stroke-width="0.7" />
<line x1="458.00" y1="247.50" x2="458.00" y2="250.10" stroke="#c4c4c4" stroke-width="0.7" />
<line x1="463.00" y1="247.50" x2="463.00" y2="250.10" stroke="#c4c4c4" stroke-width="0.7" />
<line x1="468.00" y1="247.50" x2="468.00" y2="250.10" stroke="#c4c4c4" stroke-width="0.7" />
<line x1="473.00" y1="247.50" x2="473.00" y2="250.10" stroke="#c4c4c4" stroke-width="0.7" />
<line x1="480.00" y1="247.50" x2="480.00" y2="250.10" stroke="#c4c4c4" stroke-width="0.7" />
<line x1="489.90" y1="247.50" x2="489.90" y2="250.10" stroke="#c4c4c4" stroke-width="0.7" />
<path d="M387.60,196.80 H388.20 V200.10 H389.80 V203.40 H391.00 V206.80 H391.80 V210.20 H392.20 V213.60 H392.70 V217.00 H393.20 V220.40 H393.70 V224.80 H395.10 V231.50 H399.90 V234.40 H400.40 V237.30 H402.10 V240.70 H403.30 V244.10 H406.80 V248.80 H407.40 V253.50 H409.70 V258.20 H410.90 V263.50 H441.80 V270.80 H489.90" fill="none" stroke="#6a4a74" stroke-width="1.2" stroke-linejoin="miter"/>
<line x1="429.70" y1="262.20" x2="429.70" y2="264.80" stroke="#6a4a74" stroke-width="0.7" />
<line x1="489.90" y1="269.50" x2="489.90" y2="272.10" stroke="#6a4a74" stroke-width="0.7" />
<line x1="396.00" y1="197.90" x2="403.00" y2="197.90" stroke="#c4c4c4" stroke-width="1.0" />
<line x1="399.50" y1="196.50" x2="399.50" y2="199.30" stroke="#c4c4c4" stroke-width="0.8" />
<text x="406.70" y="200.10" font-size="6.3" text-anchor="start" fill="#222" font-weight="normal"  textLength="108.20" lengthAdjust="spacingAndGlyphs"><tspan font-style="italic">RAS</tspan><tspan font-size="4.16" font-style="italic" dy="-2.65">wt</tspan><tspan dy="2.65"> (</tspan><tspan font-style="italic">n</tspan><tspan> = 106, median OS 18.3 months)</tspan></text>
<line x1="396.00" y1="207.70" x2="403.00" y2="207.70" stroke="#6a4a74" stroke-width="1.0" />
<line x1="399.50" y1="206.30" x2="399.50" y2="209.10" stroke="#6a4a74" stroke-width="0.8" />
<text x="406.70" y="209.90" font-size="6.3" text-anchor="start" fill="#222" font-weight="normal"  textLength="103.60" lengthAdjust="spacingAndGlyphs"><tspan font-style="italic">RAS</tspan><tspan font-size="4.16" font-style="italic" dy="-2.65">mut</tspan><tspan dy="2.65"> (</tspan><tspan font-style="italic">n</tspan><tspan> = 24, median OS 7.7 months)</tspan></text>
<text x="436.10" y="239.90" font-size="6.2" text-anchor="start" fill="#222" font-weight="normal"  textLength="30.40" lengthAdjust="spacingAndGlyphs"><tspan font-style="italic">P</tspan><tspan> = 0.0066</tspan></text>
<text x="235.2" y="325.6" font-size="10.4" font-weight="bold" fill="#111">H</text>
<text x="312.90" y="336.20" font-size="6.2" text-anchor="middle" fill="#222" font-weight="normal"  textLength="84.70" lengthAdjust="spacingAndGlyphs"><tspan>Overall survival of t-AML patients</tspan></text>
<text x="312.55" y="342.70" font-size="6.2" text-anchor="middle" fill="#222" font-weight="normal"  textLength="63.00" lengthAdjust="spacingAndGlyphs"><tspan>stratified by </tspan><tspan font-style="italic">RAS</tspan><tspan font-size="4.09" font-style="italic" dy="-2.60">mut</tspan><tspan dy="2.60"> type</tspan></text>
<line x1="259.80" y1="353.90" x2="259.80" y2="438.50" stroke="#1a1a1a" stroke-width="1.0" />
<line x1="259.30" y1="438.50" x2="364.00" y2="438.50" stroke="#1a1a1a" stroke-width="1.0" />
<line x1="256.50" y1="438.50" x2="259.80" y2="438.50" stroke="#1a1a1a" stroke-width="0.9" />
<text x="253.60" y="440.50" font-size="5.85" text-anchor="end" fill="#444" font-weight="normal" ><tspan>0</tspan></text>
<line x1="256.50" y1="422.28" x2="259.80" y2="422.28" stroke="#1a1a1a" stroke-width="0.9" />
<text x="253.60" y="424.28" font-size="5.85" text-anchor="end" fill="#444" font-weight="normal" ><tspan>20</tspan></text>
<line x1="256.50" y1="406.06" x2="259.80" y2="406.06" stroke="#1a1a1a" stroke-width="0.9" />
<text x="253.60" y="408.06" font-size="5.85" text-anchor="end" fill="#444" font-weight="normal" ><tspan>40</tspan></text>
<line x1="256.50" y1="389.84" x2="259.80" y2="389.84" stroke="#1a1a1a" stroke-width="0.9" />
<text x="253.60" y="391.84" font-size="5.85" text-anchor="end" fill="#444" font-weight="normal" ><tspan>60</tspan></text>
<line x1="256.50" y1="373.62" x2="259.80" y2="373.62" stroke="#1a1a1a" stroke-width="0.9" />
<text x="253.60" y="375.62" font-size="5.85" text-anchor="end" fill="#444" font-weight="normal" ><tspan>80</tspan></text>
<line x1="256.50" y1="357.40" x2="259.80" y2="357.40" stroke="#1a1a1a" stroke-width="0.9" />
<text x="253.60" y="359.40" font-size="5.85" text-anchor="end" fill="#444" font-weight="normal" ><tspan>100</tspan></text>
<line x1="259.80" y1="438.50" x2="259.80" y2="441.10" stroke="#1a1a1a" stroke-width="0.9" />
<text x="259.80" y="450.20" font-size="5.85" text-anchor="middle" fill="#444" font-weight="normal" ><tspan>0</tspan></text>
<line x1="280.34" y1="438.50" x2="280.34" y2="441.10" stroke="#1a1a1a" stroke-width="0.9" />
<text x="280.34" y="450.20" font-size="5.85" text-anchor="middle" fill="#444" font-weight="normal" ><tspan>12</tspan></text>
<line x1="300.88" y1="438.50" x2="300.88" y2="441.10" stroke="#1a1a1a" stroke-width="0.9" />
<text x="300.88" y="450.20" font-size="5.85" text-anchor="middle" fill="#444" font-weight="normal" ><tspan>24</tspan></text>
<line x1="321.42" y1="438.50" x2="321.42" y2="441.10" stroke="#1a1a1a" stroke-width="0.9" />
<text x="321.42" y="450.20" font-size="5.85" text-anchor="middle" fill="#444" font-weight="normal" ><tspan>36</tspan></text>
<line x1="341.96" y1="438.50" x2="341.96" y2="441.10" stroke="#1a1a1a" stroke-width="0.9" />
<text x="341.96" y="450.20" font-size="5.85" text-anchor="middle" fill="#444" font-weight="normal" ><tspan>48</tspan></text>
<line x1="362.50" y1="438.50" x2="362.50" y2="441.10" stroke="#1a1a1a" stroke-width="0.9" />
<text x="362.50" y="450.20" font-size="5.85" text-anchor="middle" fill="#444" font-weight="normal" ><tspan>60</tspan></text>
<text x="312.60" y="461.10" font-size="8.0" font-weight="bold" fill="#333" text-anchor="middle" textLength="78.30" lengthAdjust="spacingAndGlyphs">Months since diagnosis of t-MN</text>
<text transform="translate(238.10,396.00) rotate(-90)" x="0" y="0" font-size="8.0" font-weight="bold" fill="#3a3a3a" text-anchor="middle" textLength="53.70" lengthAdjust="spacingAndGlyphs">Probability of survival</text>
<path d="M259.80,357.40 H261.70 V360.70 H262.70 V365.50 H263.70 V373.20 H264.60 V386.70 H265.60 V397.30 H267.50 V403.10 H272.30 V404.00 H273.30 V409.80 H274.30 V414.60 H276.20 V415.60 H277.20 V423.30 H280.00 V424.30 H281.00 V429.10 H282.90 V432.00 H283.90 V438.30" fill="none" stroke="#b79cc0" stroke-width="1.0"/>
<path d="M259.80,357.40 H262.30 V365.90 H266.90 V375.10 H278.10 V381.50 H279.10 V387.60 H279.70 V400.20 H314.90 V419.30 H362.50" fill="none" stroke="#573863" stroke-width="1.0" stroke-linejoin="miter"/>
<line x1="272.50" y1="373.70" x2="272.50" y2="376.30" stroke="#573863" stroke-width="0.7" />
<line x1="274.80" y1="373.70" x2="274.80" y2="376.30" stroke="#573863" stroke-width="0.7" />
<line x1="302.50" y1="398.90" x2="302.50" y2="401.50" stroke="#573863" stroke-width="0.7" />
<line x1="362.50" y1="418.00" x2="362.50" y2="420.60" stroke="#573863" stroke-width="0.7" />
<line x1="282.80" y1="357.60" x2="288.80" y2="357.60" stroke="#573863" stroke-width="1.0" />
<line x1="285.80" y1="356.20" x2="285.80" y2="359.00" stroke="#573863" stroke-width="0.8" />
<text x="292.20" y="359.80" font-size="6.3" text-anchor="start" fill="#222" font-weight="normal"  textLength="111.80" lengthAdjust="spacingAndGlyphs"><tspan font-style="italic">KRAS</tspan><tspan font-size="4.16" font-style="italic" dy="-2.65">mut</tspan><tspan dy="2.65"> (</tspan><tspan font-style="italic">n</tspan><tspan> = 10, median OS 11.4 months)</tspan></text>
<line x1="282.80" y1="367.80" x2="288.80" y2="367.80" stroke="#b79cc0" stroke-width="1.0" />
<line x1="285.80" y1="366.40" x2="285.80" y2="369.20" stroke="#b79cc0" stroke-width="0.8" />
<text x="292.20" y="370.00" font-size="6.3" text-anchor="start" fill="#222" font-weight="normal"  textLength="109.20" lengthAdjust="spacingAndGlyphs"><tspan font-style="italic">NRAS</tspan><tspan font-size="4.16" font-style="italic" dy="-2.65">mut</tspan><tspan dy="2.65"> (</tspan><tspan font-style="italic">n</tspan><tspan> = 14, median OS 4.1 months)</tspan></text>
<text x="300.80" y="393.30" font-size="6.2" text-anchor="start" fill="#222" font-weight="normal"  textLength="23.20" lengthAdjust="spacingAndGlyphs"><tspan font-style="italic">P</tspan><tspan> = 0.01</tspan></text>
<text x="5.2" y="325.4" font-size="10.4" font-weight="bold" fill="#111">G</text>
<text x="52.80" y="336.30" font-size="6.2" text-anchor="start" fill="#222" font-weight="normal"  textLength="116.70" lengthAdjust="spacingAndGlyphs"><tspan>Multivariable Cox proportional hazard analysis</tspan></text>
<rect x="16.20" y="341.20" width="189.80" height="14.40" fill="#174f8c" />
<line x1="16.20" y1="341.80" x2="206.00" y2="341.80" stroke="#0e3463" stroke-width="1.0" />
<line x1="16.20" y1="355.10" x2="206.00" y2="355.10" stroke="#0a2a50" stroke-width="1.0" />
<rect x="16.20" y="355.60" width="189.80" height="7.69" fill="#e0dfe1" />
<text x="20.60" y="361.35" font-size="6.7" text-anchor="start" fill="#111" font-weight="bold"  textLength="12.88" lengthAdjust="spacingAndGlyphs"><tspan>RAS</tspan></text>
<text x="20.60" y="369.04" font-size="6.7" text-anchor="start" fill="#333" font-weight="normal"  textLength="7.80" lengthAdjust="spacingAndGlyphs"><tspan>No</tspan></text>
<text x="78.40" y="369.04" font-size="6.7" text-anchor="end" fill="#333" font-weight="normal"  textLength="10.18" lengthAdjust="spacingAndGlyphs"><tspan>263</tspan></text>
<text x="128.90" y="369.04" font-size="6.7" text-anchor="start" fill="#333" font-weight="normal"  textLength="28.14" lengthAdjust="spacingAndGlyphs"><tspan>Reference</tspan></text>
<rect x="16.20" y="370.98" width="189.80" height="7.69" fill="#e0dfe1" />
<text x="20.60" y="376.73" font-size="6.7" text-anchor="start" fill="#333" font-weight="normal"  textLength="9.95" lengthAdjust="spacingAndGlyphs"><tspan>Yes</tspan></text>
<text x="78.40" y="376.73" font-size="6.7" text-anchor="end" fill="#333" font-weight="normal"  textLength="6.79" lengthAdjust="spacingAndGlyphs"><tspan>45</tspan></text>
<text x="128.90" y="376.73" font-size="6.7" text-anchor="start" fill="#333" font-weight="normal"  textLength="44.76" lengthAdjust="spacingAndGlyphs"><tspan>1.92 (1.31, 2.80)</tspan></text>
<text x="204.80" y="376.73" font-size="6.7" text-anchor="end" fill="#333" font-weight="normal"  textLength="20.52" lengthAdjust="spacingAndGlyphs"><tspan>&lt; 0.001</tspan></text>
<text x="20.60" y="384.42" font-size="6.7" text-anchor="start" fill="#111" font-weight="bold"  textLength="8.81" lengthAdjust="spacingAndGlyphs"><tspan>CK</tspan></text>
<rect x="16.20" y="386.37" width="189.80" height="7.69" fill="#e0dfe1" />
<text x="20.60" y="392.11" font-size="6.7" text-anchor="start" fill="#333" font-weight="normal"  textLength="7.80" lengthAdjust="spacingAndGlyphs"><tspan>No</tspan></text>
<text x="78.40" y="392.11" font-size="6.7" text-anchor="end" fill="#333" font-weight="normal"  textLength="10.18" lengthAdjust="spacingAndGlyphs"><tspan>263</tspan></text>
<text x="128.90" y="392.11" font-size="6.7" text-anchor="start" fill="#333" font-weight="normal"  textLength="28.14" lengthAdjust="spacingAndGlyphs"><tspan>Reference</tspan></text>
<text x="20.60" y="399.80" font-size="6.7" text-anchor="start" fill="#333" font-weight="normal"  textLength="9.95" lengthAdjust="spacingAndGlyphs"><tspan>Yes</tspan></text>
<text x="78.40" y="399.80" font-size="6.7" text-anchor="end" fill="#333" font-weight="normal"  textLength="6.79" lengthAdjust="spacingAndGlyphs"><tspan>45</tspan></text>
<text x="128.90" y="399.80" font-size="6.7" text-anchor="start" fill="#333" font-weight="normal"  textLength="44.76" lengthAdjust="spacingAndGlyphs"><tspan>1.33 (0.88, 2.01)</tspan></text>
<text x="204.80" y="399.80" font-size="6.7" text-anchor="end" fill="#333" font-weight="normal"  textLength="8.48" lengthAdjust="spacingAndGlyphs"><tspan>0.2</tspan></text>
<rect x="16.20" y="401.75" width="189.80" height="7.69" fill="#e0dfe1" />
<text x="20.60" y="407.50" font-size="6.7" text-anchor="start" fill="#111" font-weight="bold"  textLength="27.11" lengthAdjust="spacingAndGlyphs"><tspan>Allo_SCT</tspan></text>
<text x="20.60" y="415.19" font-size="6.7" text-anchor="start" fill="#333" font-weight="normal"  textLength="7.80" lengthAdjust="spacingAndGlyphs"><tspan>No</tspan></text>
<text x="78.40" y="415.19" font-size="6.7" text-anchor="end" fill="#333" font-weight="normal"  textLength="10.18" lengthAdjust="spacingAndGlyphs"><tspan>242</tspan></text>
<text x="128.90" y="415.19" font-size="6.7" text-anchor="start" fill="#333" font-weight="normal"  textLength="28.14" lengthAdjust="spacingAndGlyphs"><tspan>Reference</tspan></text>
<rect x="16.20" y="417.13" width="189.80" height="7.69" fill="#e0dfe1" />
<text x="20.60" y="422.88" font-size="6.7" text-anchor="start" fill="#333" font-weight="normal"  textLength="9.95" lengthAdjust="spacingAndGlyphs"><tspan>Yes</tspan></text>
<text x="78.40" y="422.88" font-size="6.7" text-anchor="end" fill="#333" font-weight="normal"  textLength="6.79" lengthAdjust="spacingAndGlyphs"><tspan>66</tspan></text>
<text x="128.90" y="422.88" font-size="6.7" text-anchor="start" fill="#333" font-weight="normal"  textLength="44.76" lengthAdjust="spacingAndGlyphs"><tspan>0.31 (0.20, 0.48)</tspan></text>
<text x="204.80" y="422.88" font-size="6.7" text-anchor="end" fill="#333" font-weight="normal"  textLength="20.52" lengthAdjust="spacingAndGlyphs"><tspan>&lt; 0.001</tspan></text>
<text x="20.60" y="430.57" font-size="6.7" text-anchor="start" fill="#111" font-weight="bold"  textLength="31.18" lengthAdjust="spacingAndGlyphs"><tspan>Phenotype</tspan></text>
<rect x="16.20" y="432.52" width="189.80" height="7.69" fill="#e0dfe1" />
<text x="20.60" y="438.26" font-size="6.7" text-anchor="start" fill="#333" font-weight="normal"  textLength="18.98" lengthAdjust="spacingAndGlyphs"><tspan>T-MDS</tspan></text>
<text x="78.40" y="438.26" font-size="6.7" text-anchor="end" fill="#333" font-weight="normal"  textLength="10.18" lengthAdjust="spacingAndGlyphs"><tspan>181</tspan></text>
<text x="128.90" y="438.26" font-size="6.7" text-anchor="start" fill="#333" font-weight="normal"  textLength="28.14" lengthAdjust="spacingAndGlyphs"><tspan>Reference</tspan></text>
<text x="20.60" y="445.95" font-size="6.7" text-anchor="start" fill="#333" font-weight="normal"  textLength="17.96" lengthAdjust="spacingAndGlyphs"><tspan>T-AML</tspan></text>
<text x="78.40" y="445.95" font-size="6.7" text-anchor="end" fill="#333" font-weight="normal"  textLength="10.18" lengthAdjust="spacingAndGlyphs"><tspan>127</tspan></text>
<text x="128.90" y="445.95" font-size="6.7" text-anchor="start" fill="#333" font-weight="normal"  textLength="44.76" lengthAdjust="spacingAndGlyphs"><tspan>1.78 (1.31, 2.42)</tspan></text>
<text x="204.80" y="445.95" font-size="6.7" text-anchor="end" fill="#333" font-weight="normal"  textLength="18.83" lengthAdjust="spacingAndGlyphs"><tspan>&lt;0.001</tspan></text>
<text x="18.90" y="350.90" font-size="6.8" text-anchor="start" fill="#fff" font-weight="bold"  textLength="23.59" lengthAdjust="spacingAndGlyphs"><tspan>Variable</tspan></text>
<text x="74.20" y="350.90" font-size="6.8" text-anchor="middle" fill="#fff" font-weight="bold"  textLength="3.76" lengthAdjust="spacingAndGlyphs"><tspan>n</tspan></text>
<text x="83.70" y="350.90" font-size="6.8" text-anchor="start" fill="#fff" font-weight="bold"  textLength="35.54" lengthAdjust="spacingAndGlyphs"><tspan>Hazard ratio</tspan></text>
<text x="202.40" y="350.90" font-size="6.8" text-anchor="end" fill="#fff" font-weight="bold"  textLength="21.88" lengthAdjust="spacingAndGlyphs"><tspan font-style="italic">P</tspan><tspan>-value</tspan></text>
<line x1="16.50" y1="355.60" x2="16.50" y2="447.90" stroke="#777" stroke-width="0.7" />
<line x1="205.50" y1="355.60" x2="205.50" y2="447.90" stroke="#777" stroke-width="0.7" />
<line x1="16.20" y1="448.20" x2="206.00" y2="448.20" stroke="#444" stroke-width="1.0" />
<line x1="79.20" y1="341.20" x2="79.20" y2="447.90" stroke="#333" stroke-width="0.9" />
<line x1="125.00" y1="341.20" x2="125.00" y2="447.90" stroke="#333" stroke-width="0.9" />
<line x1="105.5" y1="355.6" x2="105.5" y2="447.9" stroke="#2a1a20" stroke-width="1.0" stroke-dasharray="1.1,1.4"/>
<rect x="104.10" y="365.04" width="3.60" height="3.60" fill="#a8163c" rx="0.5"/>
<line x1="109.90" y1="374.53" x2="121.70" y2="374.53" stroke="#1a1a1a" stroke-width="1.0" />
<line x1="109.90" y1="373.43" x2="109.90" y2="375.63" stroke="#1a1a1a" stroke-width="0.7" />
<line x1="121.70" y1="373.43" x2="121.70" y2="375.63" stroke="#1a1a1a" stroke-width="0.7" />
<rect x="113.40" y="372.43" width="4.20" height="4.20" fill="#a8163c" rx="0.5"/>
<rect x="104.10" y="388.11" width="3.60" height="3.60" fill="#a8163c" rx="0.5"/>
<line x1="104.60" y1="397.60" x2="116.50" y2="397.60" stroke="#1a1a1a" stroke-width="1.0" />
<line x1="104.60" y1="396.50" x2="104.60" y2="398.70" stroke="#1a1a1a" stroke-width="0.7" />
<line x1="116.50" y1="396.50" x2="116.50" y2="398.70" stroke="#1a1a1a" stroke-width="0.7" />
<rect x="107.85" y="395.65" width="3.90" height="3.90" fill="#a8163c" rx="0.5"/>
<rect x="104.10" y="411.19" width="3.60" height="3.60" fill="#a8163c" rx="0.5"/>
<line x1="82.10" y1="420.68" x2="95.60" y2="420.68" stroke="#1a1a1a" stroke-width="1.0" />
<line x1="82.10" y1="419.58" x2="82.10" y2="421.78" stroke="#1a1a1a" stroke-width="0.7" />
<line x1="95.60" y1="419.58" x2="95.60" y2="421.78" stroke="#1a1a1a" stroke-width="0.7" />
<rect x="86.65" y="418.73" width="3.90" height="3.90" fill="#a8163c" rx="0.5"/>
<rect x="104.10" y="434.26" width="3.60" height="3.60" fill="#a8163c" rx="0.5"/>
<line x1="109.80" y1="443.75" x2="119.80" y2="443.75" stroke="#1a1a1a" stroke-width="1.0" />
<line x1="109.80" y1="442.65" x2="109.80" y2="444.85" stroke="#1a1a1a" stroke-width="0.7" />
<line x1="119.80" y1="442.65" x2="119.80" y2="444.85" stroke="#1a1a1a" stroke-width="0.7" />
<rect x="113.05" y="441.80" width="3.90" height="3.90" fill="#a8163c" rx="0.5"/>
<line x1="83.00" y1="447.90" x2="83.00" y2="450.70" stroke="#222" stroke-width="0.8" />
<text x="83.00" y="459.30" font-size="6.8" text-anchor="middle" fill="#444" font-weight="normal"  textLength="8.90" lengthAdjust="spacingAndGlyphs"><tspan>0.2</tspan></text>
<line x1="94.00" y1="447.90" x2="94.00" y2="450.70" stroke="#222" stroke-width="0.8" />
<text x="94.00" y="459.30" font-size="6.8" text-anchor="middle" fill="#444" font-weight="normal"  textLength="8.90" lengthAdjust="spacingAndGlyphs"><tspan>0.5</tspan></text>
<line x1="105.60" y1="447.90" x2="105.60" y2="450.70" stroke="#222" stroke-width="0.8" />
<text x="105.60" y="459.30" font-size="6.8" text-anchor="middle" fill="#444" font-weight="normal"  textLength="3.56" lengthAdjust="spacingAndGlyphs"><tspan>1</tspan></text>
<line x1="116.00" y1="447.90" x2="116.00" y2="450.70" stroke="#222" stroke-width="0.8" />
<text x="116.00" y="459.30" font-size="6.8" text-anchor="middle" fill="#444" font-weight="normal"  textLength="3.56" lengthAdjust="spacingAndGlyphs"><tspan>2</tspan></text>
<rect x="0" y="0" width="520" height="1" fill="#5e5e5e"/><rect x="0" y="0" width="1" height="467" fill="#6a6a6a"/><rect x="519" y="0" width="1" height="467" fill="#4e4e4e"/><rect x="518" y="0" width="1" height="467" fill="#d8d8d8"/><rect x="0" y="466" width="520" height="1" fill="#4e4e4e"/><rect x="0" y="465" width="518" height="1" fill="#d8d8d8"/>
</svg>
</body></html>
